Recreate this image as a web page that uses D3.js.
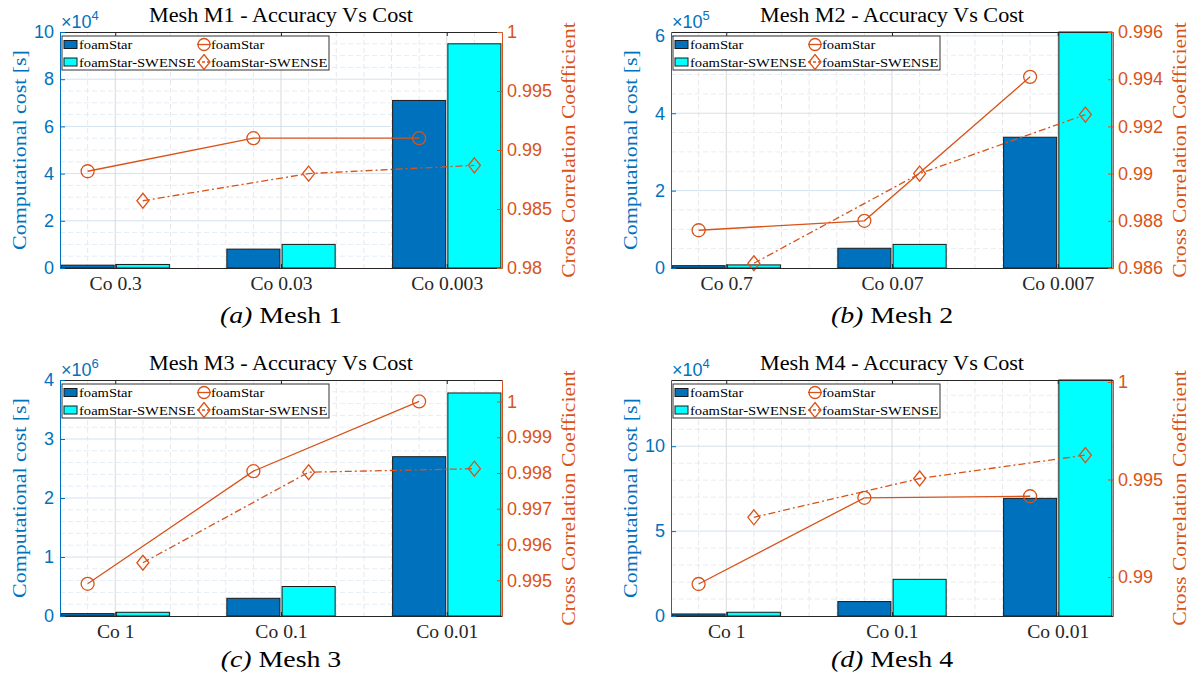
<!DOCTYPE html>
<html><head><meta charset="utf-8">
<script src="https://cdn.jsdelivr.net/npm/d3@7"></script>
<style>body{margin:0;background:#fff} svg{display:block}</style>
</head><body>
<svg id="chart" width="1195" height="681"></svg>
<script>
// ---------------- data ----------------
const seriesNames = ["foamStar", "foamStar-SWENSE"];

const categoriesM1 = ["Co 0.3", "Co 0.03", "Co 0.003"];
const costFoamStarM1 = [1200, 8000, 71000];
const costSwenseM1 = [1500, 10000, 95000];
const corrFoamStarM1 = [0.9882, 0.9910, 0.9910];
const corrSwenseM1 = [0.9857, 0.9880, 0.9887];
const costTicksM1 = [0, 2, 4, 6, 8, 10];
const corrTicksM1 = [0.98, 0.985, 0.99, 0.995, 1];

const categoriesM2 = ["Co 0.7", "Co 0.07", "Co 0.007"];
const costFoamStarM2 = [6000, 51000, 338000];
const costSwenseM2 = [8000, 61000, 610000];
const corrFoamStarM2 = [0.9876, 0.9880, 0.9941];
const corrSwenseM2 = [0.9862, 0.9900, 0.9925];
const costTicksM2 = [0, 2, 4, 6];
const corrTicksM2 = [0.986, 0.988, 0.99, 0.992, 0.994, 0.996];

const categoriesM3 = ["Co 1", "Co 0.1", "Co 0.01"];
const costFoamStarM3 = [40000, 300000, 2700000];
const costSwenseM3 = [63000, 500000, 3780000];
const corrFoamStarM3 = [0.9949, 0.99805, 1.0000];
const corrSwenseM3 = [0.99549, 0.99802, 0.99812];
const costTicksM3 = [0, 1, 2, 3, 4];
const corrTicksM3 = [0.995, 0.996, 0.997, 0.998, 0.999, 1];

const categoriesM4 = ["Co 1", "Co 0.1", "Co 0.01"];
const costFoamStarM4 = [1200, 8500, 69300];
const costSwenseM4 = [2200, 21600, 139000];
const corrFoamStarM4 = [0.98964, 0.99406, 0.99414];
const corrSwenseM4 = [0.99306, 0.99505, 0.99625];
const costTicksM4 = [0, 5, 10];
const corrTicksM4 = [0.99, 0.995, 1];

const titles = ["Mesh M1 - Accuracy Vs Cost", "Mesh M2 - Accuracy Vs Cost",
                "Mesh M3 - Accuracy Vs Cost", "Mesh M4 - Accuracy Vs Cost"];
const captionLetters = ["(a)", "(b)", "(c)", "(d)"];
const captionNames = ["Mesh 1", "Mesh 2", "Mesh 3", "Mesh 4"];

const panels = [
  {cats: categoriesM1, cost: [costFoamStarM1, costSwenseM1], corr: [corrFoamStarM1, corrSwenseM1],
   exp: 4, costMax: 10, costMinor: 0.5, costTicks: costTicksM1, corrDomain: [0.98, 1.0], corrTicks: corrTicksM1},
  {cats: categoriesM2, cost: [costFoamStarM2, costSwenseM2], corr: [corrFoamStarM2, corrSwenseM2],
   exp: 5, costMax: 6.1, costMinor: 0.5, costTicks: costTicksM2, corrDomain: [0.986, 0.996], corrTicks: corrTicksM2},
  {cats: categoriesM3, cost: [costFoamStarM3, costSwenseM3], corr: [corrFoamStarM3, corrSwenseM3],
   exp: 6, costMax: 4, costMinor: 0.2, costTicks: costTicksM3, corrDomain: [0.994, 1.0006], corrTicks: corrTicksM3},
  {cats: categoriesM4, cost: [costFoamStarM4, costSwenseM4], corr: [corrFoamStarM4, corrSwenseM4],
   exp: 4, costMax: 13.9, costMinor: 1, costTicks: costTicksM4, corrDomain: [0.988, 1.0001], corrTicks: corrTicksM4}
];

// ---------------- style ----------------
const BLUE = "#0072BD", CYAN = "#00FFFF", ORANGE = "#D95319", DARK = "#262626";
const SERIF = "'Liberation Serif','Times New Roman',serif";
const SANS = "'Liberation Sans',Arial,Helvetica,sans-serif";
const PW = 442, PH = 236;
const origins = [[60, 32], [671, 32], [60, 380], [671, 380]];
const captionY = [323, 323, 667, 667];

const svg = d3.select("#chart");

function stretch(sel, f) {
  sel.each(function () {
    const L = this.getComputedTextLength();
    this.setAttribute("textLength", L * f);
    this.setAttribute("lengthAdjust", "spacingAndGlyphs");
  });
}

function drawPanel(p, idx) {
  const [ox, oy] = origins[idx];
  const x0 = ox, x1 = ox + PW, yTop = oy, yBot = oy + PH;
  const g = svg.append("g");
  const factor = Math.pow(10, p.exp);
  const x = d3.scaleLinear().domain([2 / 3, 10 / 3]).range([x0, x1]);
  const yL = d3.scaleLinear().domain([0, p.costMax]).range([yBot, yTop]);
  const yR = d3.scaleLinear().domain(p.corrDomain).range([yBot, yTop]);

  // grid
  const grid = g.append("g");
  const nMinor = Math.floor(p.costMax / p.costMinor + 1e-9);
  const minorH = d3.range(1, nMinor + 1).map(i => i * p.costMinor)
    .filter(v => !p.costTicks.some(t => Math.abs(t - v) < 1e-9) && v < p.costMax - 1e-9);
  grid.selectAll(".mh").data(minorH).join("line")
    .attr("x1", x0).attr("x2", x1).attr("y1", d => yL(d)).attr("y2", d => yL(d))
    .attr("stroke", "#e4edf6").attr("stroke-width", 1).attr("stroke-dasharray", "5,3");
  const minorV = d3.range(5, 20).filter(k => k % 6 !== 0).map(k => k / 6);
  grid.selectAll(".mv").data(minorV).join("line")
    .attr("x1", d => x(d)).attr("x2", d => x(d)).attr("y1", yTop).attr("y2", yBot)
    .attr("stroke", "#e8e8e8").attr("stroke-width", 1).attr("stroke-dasharray", "5,3");
  grid.selectAll(".Mh").data(p.costTicks.filter(t => t > 0 && t < p.costMax)).join("line")
    .attr("x1", x0).attr("x2", x1).attr("y1", d => yL(d)).attr("y2", d => yL(d))
    .attr("stroke", "#d3e2ef").attr("stroke-width", 1);
  grid.selectAll(".Mv").data([1, 2, 3]).join("line")
    .attr("x1", d => x(d)).attr("x2", d => x(d)).attr("y1", yTop).attr("y2", yBot)
    .attr("stroke", "#d9d9d9").attr("stroke-width", 1);

  // bars
  const barFill = [BLUE, CYAN];
  const offs = [-1 / 6, 1 / 6];
  const bw = 0.32;
  p.cost.forEach((vals, s) => {
    g.append("g").selectAll("rect").data(vals).join("rect")
      .attr("x", (d, i) => x(i + 1 + offs[s] - bw / 2))
      .attr("width", x(bw) - x(0))
      .attr("y", d => yL(d / factor))
      .attr("height", d => yBot - yL(d / factor))
      .attr("fill", barFill[s]).attr("stroke", "#1a1a1a").attr("stroke-width", 1);
  });

  // lines
  const dashes = [null, "7,3,2,3"];
  p.corr.forEach((vals, s) => {
    const line = d3.line().x((d, i) => x(i + 1 + offs[s])).y(d => yR(d));
    g.append("path").datum(vals).attr("d", line)
      .attr("fill", "none").attr("stroke", ORANGE).attr("stroke-width", 1.3)
      .attr("stroke-dasharray", dashes[s]);
    const mk = g.append("g").selectAll("g").data(vals).join("g")
      .attr("transform", (d, i) => `translate(${x(i + 1 + offs[s])},${yR(d)})`);
    if (s === 0) {
      mk.append("circle").attr("r", 6.5).attr("fill", "none").attr("stroke", ORANGE).attr("stroke-width", 1.3);
    } else {
      mk.append("path").attr("d", "M0,-7.5L6,0L0,7.5L-6,0Z").attr("fill", "none")
        .attr("stroke", ORANGE).attr("stroke-width", 1.3);
    }
  });

  // axes
  const bottom = g.append("g").attr("transform", `translate(0,${yBot})`)
    .call(d3.axisBottom(x).tickValues([1, 2, 3]).tickFormat(d => p.cats[d - 1])
      .tickSizeInner(-4).tickSizeOuter(0).tickPadding(9));
  bottom.select(".domain").attr("stroke", DARK);
  bottom.selectAll(".tick line").attr("stroke", DARK);
  const bt = bottom.selectAll(".tick text").attr("fill", DARK)
    .style("font-family", SERIF).style("font-size", "18px");
  stretch(bt, 1.09);

  const top = g.append("g").attr("transform", `translate(0,${yTop})`)
    .call(d3.axisTop(x).tickValues([1, 2, 3]).tickFormat("").tickSizeInner(-4).tickSizeOuter(0));
  top.select(".domain").attr("stroke", DARK);
  top.selectAll(".tick line").attr("stroke", DARK);

  const left = g.append("g").attr("transform", `translate(${x0},0)`)
    .call(d3.axisLeft(yL).tickValues(p.costTicks).tickFormat(d3.format("~g"))
      .tickSizeInner(-5).tickSizeOuter(0).tickPadding(6));
  left.select(".domain").attr("stroke", BLUE);
  left.selectAll(".tick line").attr("stroke", BLUE);
  left.selectAll(".tick text").attr("fill", BLUE).style("font-family", SANS).style("font-size", "18px");

  const right = g.append("g").attr("transform", `translate(${x1},0)`)
    .call(d3.axisRight(yR).tickValues(p.corrTicks).tickFormat(d3.format("~g"))
      .tickSizeInner(-5).tickSizeOuter(0).tickPadding(5));
  right.select(".domain").attr("stroke", ORANGE);
  right.selectAll(".tick line").attr("stroke", ORANGE);
  right.selectAll(".tick text").attr("fill", ORANGE).style("font-family", SANS).style("font-size", "18px");

  // exponent
  const ex = g.append("text").attr("x", x0 + 1).attr("y", yTop - 4)
    .attr("fill", BLUE).style("font-family", SANS).style("font-size", "18px");
  ex.append("tspan").text("×10");
  ex.append("tspan").attr("dy", -8).style("font-size", "13px").text(p.exp);

  // title
  const t = g.append("text").attr("x", (x0 + x1) / 2).attr("y", yTop - 10)
    .attr("text-anchor", "middle").attr("fill", "#000")
    .style("font-family", SERIF).style("font-size", "20px").text(titles[idx]);
  stretch(t, 1.11);

  // axis labels
  const ly = g.append("text").attr("transform", `translate(${x0 - 34},${(yTop + yBot) / 2}) rotate(-90)`)
    .attr("text-anchor", "middle").attr("fill", BLUE)
    .style("font-family", SERIF).style("font-size", "19.5px").text("Computational cost [s]");
  stretch(ly, 1.125);
  const ry = g.append("text").attr("transform", `translate(${x1 + 73},${(yTop + yBot) / 2}) rotate(-90)`)
    .attr("text-anchor", "middle").attr("fill", ORANGE)
    .style("font-family", SERIF).style("font-size", "19.5px").text("Cross Correlation Coefficient");
  stretch(ry, 1.11);

  // caption
  const cap = g.append("text").attr("x", (x0 + x1) / 2).attr("y", captionY[idx])
    .attr("text-anchor", "middle").attr("fill", "#000")
    .style("font-family", SERIF).style("font-size", "24px");
  cap.append("tspan").style("font-style", "italic").text(captionLetters[idx]);
  cap.append("tspan").text(" " + captionNames[idx]);
  stretch(cap, 1.16);

  // legend
  const bx = x0 + 2, by = yTop + 4;
  const lg = g.append("g");
  lg.append("rect").attr("x", bx).attr("y", by).attr("width", 267).attr("height", 34)
    .attr("fill", "#fff").attr("stroke", "#333").attr("stroke-width", 1);
  const rowsY = [8.5, 26];
  seriesNames.forEach((name, s) => {
    lg.append("rect").attr("x", bx + 2).attr("y", by + rowsY[s] - 4).attr("width", 13).attr("height", 8)
      .attr("fill", barFill[s]).attr("stroke", "#1a1a1a").attr("stroke-width", 1);
    const t1 = lg.append("text").attr("x", bx + 17).attr("y", by + rowsY[s] + 4.5)
      .style("font-family", SERIF).style("font-size", "13.5px").attr("fill", "#000").text(name);
    stretch(t1, 1.08);
    const cx = bx + 142, cy = by + rowsY[s];
    lg.append("line").attr("x1", cx - 7).attr("x2", cx + 7).attr("y1", cy).attr("y2", cy)
      .attr("stroke", ORANGE).attr("stroke-width", 1.3).attr("stroke-dasharray", s === 1 ? "3,2" : null);
    if (s === 0) {
      lg.append("circle").attr("cx", cx).attr("cy", cy).attr("r", 6).attr("fill", "none")
        .attr("stroke", ORANGE).attr("stroke-width", 1.3);
    } else {
      lg.append("path").attr("transform", `translate(${cx},${cy})`).attr("d", "M0,-7.5L6,0L0,7.5L-6,0Z")
        .attr("fill", "none").attr("stroke", ORANGE).attr("stroke-width", 1.3);
    }
    const t2 = lg.append("text").attr("x", bx + 149).attr("y", by + rowsY[s] + 4.5)
      .style("font-family", SERIF).style("font-size", "13.5px").attr("fill", "#000").text(name);
    stretch(t2, 1.08);
  });
}

panels.forEach((p, i) => drawPanel(p, i));
</script>
</body></html>
